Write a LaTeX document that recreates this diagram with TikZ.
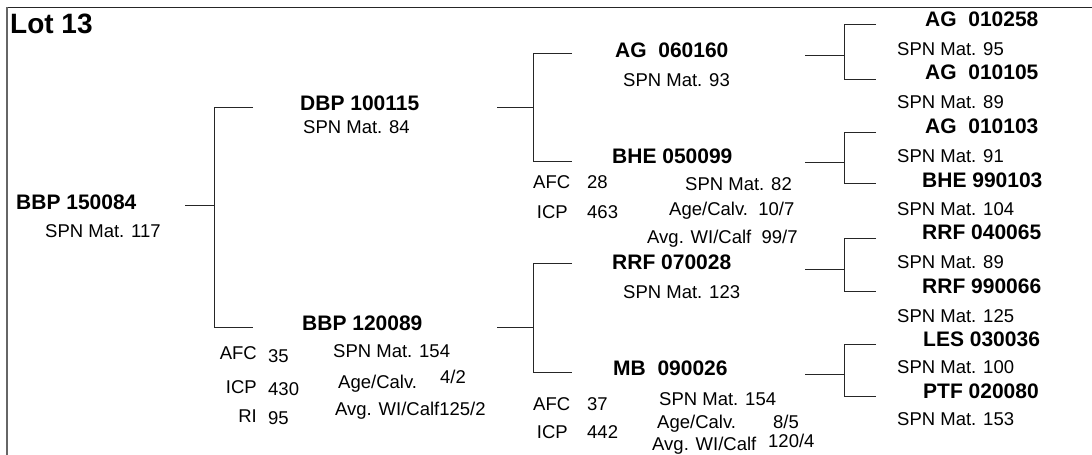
\documentclass[tikz,border=0pt]{standalone}
\usepackage{fontspec}
\setmainfont{Liberation Sans}
\newcommand{\regf}{\fontsize{18.5}{20}\selectfont}
\newcommand{\bldf}{\fontsize{21}{23}\selectfont\bfseries}
\newcommand{\lotf}{\fontsize{28}{30}\selectfont\bfseries}
\tikzset{
  lbl/.style={inner sep=0pt, anchor=base west, font=\regf},
  lblr/.style={inner sep=0pt, anchor=base east, font=\regf},
  idn/.style={inner sep=0pt, anchor=base west, font=\bldf},
  conn/.style={draw=black!85, line width=0.9pt},
}
\begin{document}
\begin{tikzpicture}[x=1pt,y=-1pt]
\useasboundingbox (0,0) rectangle (1092,455);
% frame
\coordinate (ftl) at (7,7);
\coordinate (ftr) at (1092,7);
\coordinate (fbl) at (7,455);
\draw[black!85, line width=1pt] (ftl) -- (ftr);
\draw[gray!80!black, line width=1.8pt] (ftl) -- (fbl);

\node[inner sep=0pt, anchor=base west, font=\lotf] (lot) at (10,33) {Lot 13};

% level 0
\node[idn] (n0) at (16,209) {BBP 150084};
\node[lbl] (n0s) at (45,237) {SPN Mat. 117};

% level 1
\node[idn] (n1a) at (300,110) {DBP 100115};
\node[lbl] (n1as) at (303,133) {SPN Mat. 84};

\node[idn] (n1b) at (302,330) {BBP 120089};
\node[lbl] (n1bs) at (333,357) {SPN Mat. 154};
\node[lblr] (n1bafc) at (257,359) {AFC};
\node[lbl] (n1bafcv) at (268,362) {35};
\node[lblr] (n1bicp) at (257,393) {ICP};
\node[lbl] (n1bicpv) at (268,395) {430};
\node[lblr] (n1bri) at (257,422) {RI};
\node[lbl] (n1briv) at (268,424) {95};
\node[lbl] (n1bage) at (338,388) {Age/Calv.};
\node[lbl] (n1bagev) at (440,383) {4/2};
\node[lbl] (n1bavg) at (335,415) {Avg. WI/Calf125/2};

% level 2
\node[idn] (n2a) at (615,57) {AG\ \ 060160};
\node[lbl] (n2as) at (623,86) {SPN Mat. 93};

\node[idn] (n2b) at (612,163) {BHE 050099};
\node[lbl] (n2bafc) at (533,188) {AFC};
\node[lbl] (n2bafcv) at (587,188) {28};
\node[lblr] (n2bicp) at (568,218) {ICP};
\node[lbl] (n2bicpv) at (587,218) {463};
\node[lbl] (n2bs) at (685,190) {SPN Mat. 82};
\node[lbl] (n2bage) at (669,215) {Age/Calv.\ \ 10/7};
\node[lbl] (n2bavg) at (647,243) {Avg. WI/Calf\ \ 99/7};

\node[idn] (n2c) at (612,269) {RRF 070028};
\node[lbl] (n2cs) at (623,298) {SPN Mat. 123};

\node[idn] (n2d) at (613,375) {MB\ \ 090026};
\node[lbl] (n2dafc) at (533,410) {AFC};
\node[lbl] (n2dafcv) at (587,410) {37};
\node[lblr] (n2dicp) at (568,438) {ICP};
\node[lbl] (n2dicpv) at (587,438) {442};
\node[lbl] (n2ds) at (659,405) {SPN Mat. 154};
\node[lbl] (n2dage) at (657,428) {Age/Calv.};
\node[lbl] (n2dagev) at (773,428) {8/5};
\node[lbl] (n2davg) at (652,450) {Avg. WI/Calf};
\node[lbl] (n2davgv) at (768,447) {120/4};

% level 3
\node[idn] (n3a) at (925,26) {AG\ \ 010258};
\node[lbl] (n3as) at (897,55) {SPN Mat. 95};
\node[idn] (n3b) at (925,79) {AG\ \ 010105};
\node[lbl] (n3bs) at (897,108) {SPN Mat. 89};
\node[idn] (n3c) at (925,133) {AG\ \ 010103};
\node[lbl] (n3cs) at (897,162) {SPN Mat. 91};
\node[idn] (n3d) at (922,187) {BHE 990103};
\node[lbl] (n3ds) at (897,215) {SPN Mat. 104};
\node[idn] (n3e) at (922,239) {RRF 040065};
\node[lbl] (n3es) at (897,268) {SPN Mat. 89};
\node[idn] (n3f) at (922,293) {RRF 990066};
\node[lbl] (n3fs) at (897,322) {SPN Mat. 125};
\node[idn] (n3g) at (923,346) {LES 030036};
\node[lbl] (n3gs) at (897,373) {SPN Mat. 100};
\node[idn] (n3h) at (923,398) {PTF 020080};
\node[lbl] (n3hs) at (897,425) {SPN Mat. 153};

% connectors level 0 -> 1
\coordinate (s0) at (185,205); \coordinate (j0) at (214,205);
\coordinate (j0a) at (214,107); \coordinate (e0a) at (253,107);
\coordinate (j0b) at (214,327); \coordinate (e0b) at (253,327);
\draw[conn] (s0) -- (j0);
\draw[conn] (e0a) -- (j0a) -- (j0b) -- (e0b);

% level 1 -> 2
\coordinate (s1a) at (497,107); \coordinate (j1a) at (533,107);
\coordinate (j1aa) at (533,53); \coordinate (e1aa) at (572,53);
\coordinate (j1ab) at (533,161); \coordinate (e1ab) at (572,161);
\draw[conn] (s1a) -- (j1a);
\draw[conn] (e1aa) -- (j1aa) -- (j1ab) -- (e1ab);

\coordinate (s1b) at (497,327); \coordinate (j1b) at (533,327);
\coordinate (j1ba) at (533,263); \coordinate (e1ba) at (572,263);
\coordinate (j1bb) at (533,372); \coordinate (e1bb) at (572,372);
\draw[conn] (s1b) -- (j1b);
\draw[conn] (e1ba) -- (j1ba) -- (j1bb) -- (e1bb);

% level 2 -> 3
\coordinate (s2a) at (805,55); \coordinate (j2a) at (844,55);
\coordinate (j2aa) at (844,24); \coordinate (e2aa) at (876,24);
\coordinate (j2ab) at (844,79); \coordinate (e2ab) at (876,79);
\draw[conn] (s2a) -- (j2a);
\draw[conn] (e2aa) -- (j2aa) -- (j2ab) -- (e2ab);

\coordinate (s2b) at (805,162); \coordinate (j2b) at (844,162);
\coordinate (j2ba) at (844,132); \coordinate (e2ba) at (876,132);
\coordinate (j2bb) at (844,183); \coordinate (e2bb) at (876,183);
\draw[conn] (s2b) -- (j2b);
\draw[conn] (e2ba) -- (j2ba) -- (j2bb) -- (e2bb);

\coordinate (s2c) at (805,269); \coordinate (j2c) at (844,269);
\coordinate (j2ca) at (844,238); \coordinate (e2ca) at (876,238);
\coordinate (j2cb) at (844,291); \coordinate (e2cb) at (876,291);
\draw[conn] (s2c) -- (j2c);
\draw[conn] (e2ca) -- (j2ca) -- (j2cb) -- (e2cb);

\coordinate (s2d) at (805,374); \coordinate (j2d) at (844,374);
\coordinate (j2da) at (844,344); \coordinate (e2da) at (876,344);
\coordinate (j2db) at (844,396); \coordinate (e2db) at (876,396);
\draw[conn] (s2d) -- (j2d);
\draw[conn] (e2da) -- (j2da) -- (j2db) -- (e2db);
\end{tikzpicture}
\end{document}
